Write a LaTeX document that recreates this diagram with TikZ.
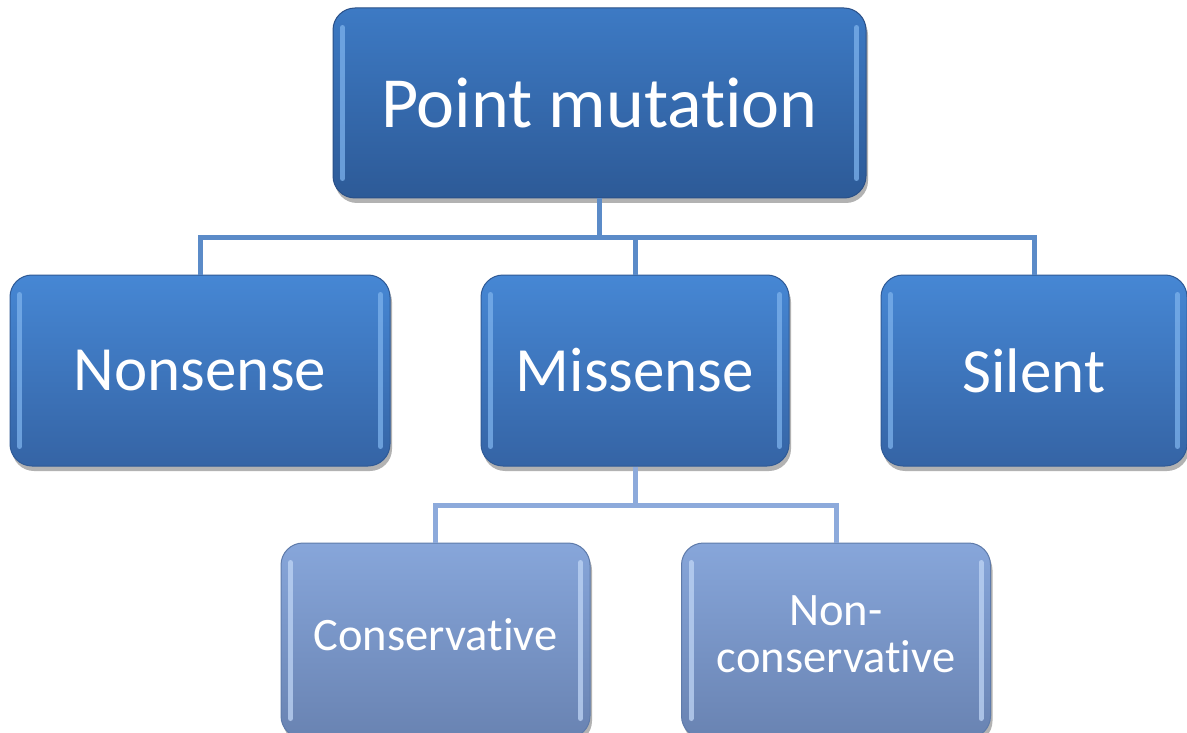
\documentclass[tikz,border=0pt]{standalone}
\usepackage{fontspec}
\setmainfont{Carlito}
\usetikzlibrary{shadows}
\definecolor{aTop}{HTML}{3D7AC4}
\definecolor{aBot}{HTML}{2D5A97}
\definecolor{aBrd}{HTML}{2A5088}
\definecolor{bTop}{HTML}{4687D4}
\definecolor{bBot}{HTML}{3564A5}
\definecolor{bBrd}{HTML}{2F5A96}
\definecolor{cTop}{HTML}{87A6DA}
\definecolor{cBot}{HTML}{6983B2}
\definecolor{cBrd}{HTML}{5F7BAA}
\definecolor{hlA}{HTML}{7DB2EC}
\definecolor{hlC}{HTML}{BFD5F5}
\definecolor{connA}{HTML}{5B8BC8}
\definecolor{connB}{HTML}{8DAADB}
\tikzset{
  boxbase/.style={rounded corners=22pt, line width=1pt, text=white, align=center,
    drop shadow={shadow xshift=2pt, shadow yshift=-5pt, opacity=0.3, fill=black}},
  boxa/.style={boxbase, draw=aBrd, top color=aTop, bottom color=aBot,
    minimum width=533pt, minimum height=190pt, font=\fontsize{72}{76}\selectfont},
  boxb/.style={boxbase, draw=bBrd, top color=bTop, bottom color=bBot,
    minimum height=191pt, font=\fontsize{63}{66}\selectfont},
  boxc/.style={boxbase, draw=cBrd, top color=cTop, bottom color=cBot,
    minimum width=309pt, minimum height=195pt, font=\fontsize{46.5}{47}\selectfont},
  hl/.style={line width=5pt, line cap=round, draw=#1, opacity=0.75},
  conna/.style={line width=5pt, draw=connA},
  connb/.style={line width=5pt, draw=connB},
}
\newcommand{\gloss}[2]{%
  \draw[hl=#2] ([xshift=10pt,yshift=-20pt]#1.north west) -- ([xshift=10pt,yshift=20pt]#1.south west);
  \draw[hl=#2] ([xshift=-10pt,yshift=-20pt]#1.north east) -- ([xshift=-10pt,yshift=20pt]#1.south east);
}
\begin{document}
\begin{tikzpicture}[x=1pt,y=-1pt]
\useasboundingbox[fill=white] (0,0) rectangle (1187,733);
\coordinate (busA) at (0,237);
\coordinate (busB) at (0,505);
\node[boxa] (top) at (599.5,103) {Point mutat\kern0pt ion};
\node[boxb, minimum width=380pt] (nonsense) at (200,370.5) {Nonsense};
\node[boxb, minimum width=308pt] (missense) at (635,370.5) {Missense};
\node[boxb, minimum width=306pt] (silent) at (1034,370.5) {Silent};
\node[boxc, text depth=12pt] (cons) at (435.5,640.5) {Conservat\kern0pt ive};
\node[boxc, text depth=12pt] (noncons) at (836,640.5) {Non-\\conservat\kern0pt ive};
\gloss{top}{hlA}
\gloss{nonsense}{hlA}
\gloss{missense}{hlA}
\gloss{silent}{hlA}
\gloss{cons}{hlC}
\gloss{noncons}{hlC}
\draw[conna] (top.south) -- (top.south |- busA);
\draw[conna] (nonsense.north) |- (busA -| silent.north) -- (silent.north);
\draw[conna] (missense.north) -- (missense.north |- busA);
\draw[connb] (missense.south) -- (missense.south |- busB);
\draw[connb] (cons.north) |- (busB -| noncons.north) -- (noncons.north);
\end{tikzpicture}
\end{document}
